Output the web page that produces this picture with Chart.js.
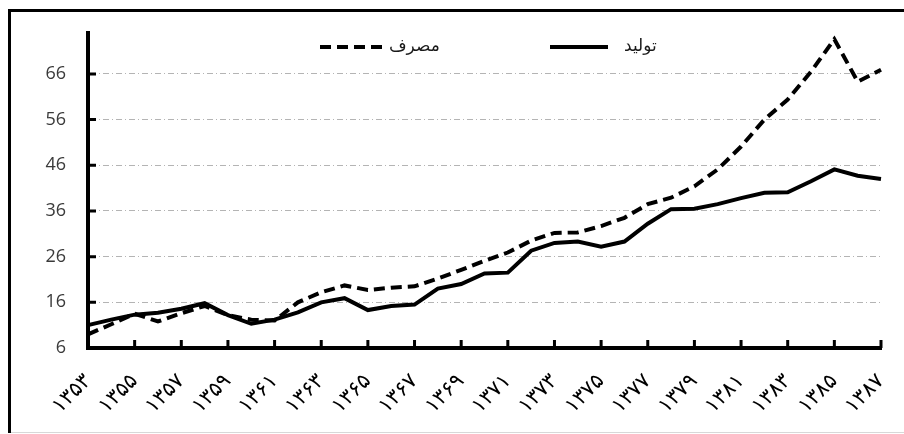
<!DOCTYPE html>
<html>
<head>
<meta charset="utf-8">
<script src="https://cdn.jsdelivr.net/npm/chart.js@4"></script>
<style>
  html, body { margin: 0; padding: 0; background: #fff; }
  canvas { display: block; }
</style>
</head>
<body>
<canvas id="mainChart" width="904" height="434"></canvas>
<script>
// سال‌ها (categories)
const years = ['۱۳۵۳','۱۳۵۴','۱۳۵۵','۱۳۵۶','۱۳۵۷','۱۳۵۸','۱۳۵۹','۱۳۶۰','۱۳۶۱','۱۳۶۲',
               '۱۳۶۳','۱۳۶۴','۱۳۶۵','۱۳۶۶','۱۳۶۷','۱۳۶۸','۱۳۶۹','۱۳۷۰','۱۳۷۱','۱۳۷۲',
               '۱۳۷۳','۱۳۷۴','۱۳۷۵','۱۳۷۶','۱۳۷۷','۱۳۷۸','۱۳۷۹','۱۳۸۰','۱۳۸۱','۱۳۸۲',
               '۱۳۸۳','۱۳۸۴','۱۳۸۵','۱۳۸۶','۱۳۸۷'];

// مصرف
const consumption = [9.0, 11.2, 13.5, 11.8, 13.6, 15.2, 13.2, 12.2, 12.0, 16.0,
                     18.2, 19.7, 18.7, 19.2, 19.5, 21.2, 23.1, 25.1, 26.9, 29.5,
                     31.2, 31.3, 32.7, 34.5, 37.5, 38.9, 41.4, 45.1, 50.1, 56.0,
                     60.4, 66.5, 73.6, 64.3, 66.9];

// تولید
const production = [11.0, 12.2, 13.3, 13.7, 14.6, 15.8, 13.2, 11.3, 12.2, 13.8,
                    16.0, 16.9, 14.3, 15.2, 15.5, 19.0, 20.0, 22.3, 22.5, 27.3,
                    29.0, 29.3, 28.2, 29.3, 33.2, 36.4, 36.5, 37.5, 38.8, 40.0,
                    40.1, 42.5, 45.1, 43.7, 43.0];

const seriesNames = ['مصرف', 'تولید'];
const yTicks = [6, 16, 26, 36, 46, 56, 66];
const yMin = 6;
const yMax = 75;

// where the two legend entries sit (line start, line end, text x)
const legendPos = [
  { x1: 320, x2: 384, tx: 389, y: 47 },
  { x1: 550, x2: 608, tx: 624, y: 47 }
];

const frame = {
  id: 'frame',
  beforeDraw(chart) {
    const ctx = chart.ctx;
    ctx.save();
    ctx.fillStyle = '#fff';
    ctx.fillRect(0, 0, chart.width, chart.height);
    ctx.strokeStyle = '#d8d8d8';
    ctx.lineWidth = 1;
    ctx.beginPath();
    ctx.moveTo(10, 432.5);
    ctx.lineTo(chart.width, 432.5);
    ctx.stroke();
    ctx.strokeStyle = '#000';
    ctx.lineWidth = 3;
    ctx.beginPath();
    ctx.moveTo(9.5, 433);
    ctx.lineTo(9.5, 10.5);
    ctx.lineTo(chart.width, 10.5);
    ctx.stroke();
    ctx.restore();
  }
};

// tick marks point into the plot, Excel style
const innerTicks = {
  id: 'innerTicks',
  afterDraw(chart) {
    const ctx = chart.ctx;
    const xs = chart.scales.x;
    const ys = chart.scales.y;
    ctx.save();
    ctx.strokeStyle = '#000';
    ctx.lineWidth = 3;
    ctx.beginPath();
    for (let i = 2; i < years.length; i += 2) {
      const px = xs.getPixelForValue(i);
      ctx.moveTo(px, ys.bottom);
      ctx.lineTo(px, ys.bottom - 8);
    }
    yTicks.forEach(v => {
      const py = ys.getPixelForValue(v);
      ctx.moveTo(xs.left, py);
      ctx.lineTo(xs.left + 8, py);
    });
    ctx.stroke();
    ctx.restore();
  }
};

const legendLines = {
  id: 'legendLines',
  afterDraw(chart) {
    const ctx = chart.ctx;
    ctx.save();
    chart.data.datasets.forEach((ds, i) => {
      const p = legendPos[i];
      ctx.strokeStyle = ds.borderColor;
      ctx.lineWidth = ds.borderWidth;
      ctx.setLineDash(ds.borderDash || []);
      ctx.beginPath();
      ctx.moveTo(p.x1, p.y);
      ctx.lineTo(p.x2, p.y);
      ctx.stroke();
      ctx.setLineDash([]);
      ctx.fillStyle = '#1a1a1a';
      ctx.font = '17px "DejaVu Sans"';
      ctx.textAlign = 'left';
      ctx.textBaseline = 'middle';
      ctx.fillText(ds.label, p.tx, p.y);
    });
    ctx.restore();
  }
};

new Chart(document.getElementById('mainChart'), {
  type: 'line',
  data: {
    labels: years,
    datasets: [{
      label: seriesNames[0],
      data: consumption,
      borderColor: '#000',
      borderWidth: 4,
      borderDash: [11, 6],
      pointRadius: 0,
      tension: 0,
      fill: false
    }, {
      label: seriesNames[1],
      data: production,
      borderColor: '#000',
      borderWidth: 4,
      pointRadius: 0,
      tension: 0,
      fill: false
    }]
  },
  options: {
    responsive: false,
    animation: false,
    events: [],
    layout: { padding: { top: 31, right: 23, bottom: 0, left: 0 } },
    plugins: {
      legend: { display: false },
      tooltip: { enabled: false }
    },
    scales: {
      x: {
        offset: false,
        grid: { drawOnChartArea: false, drawTicks: false },
        border: { color: '#000', width: 4 },
        ticks: {
          autoSkip: false,
          maxRotation: 45,
          minRotation: 45,
          padding: 21,
          color: '#000',
          font: { family: '"DejaVu Sans"', size: 21 },
          callback: (v, i) => (i % 2 === 0 ? years[i] : '')
        },
        afterFit: s => {
          s.height = 86;
          s.paddingLeft = 0;
          s.paddingRight = 0;
        }
      },
      y: {
        min: yMin,
        max: yMax,
        grid: { color: '#b4b4b4', lineWidth: 1, drawTicks: false },
        border: { color: '#000', width: 4, dash: [6, 3, 1, 3] },
        ticks: {
          padding: 22,
          color: '#3a3a3a',
          font: { family: '"Open Sans"', size: 18 }
        },
        afterBuildTicks: s => { s.ticks = yTicks.map(v => ({ value: v })); },
        afterFit: s => { s.width = 88; }
      }
    }
  },
  plugins: [frame, innerTicks, legendLines]
});
</script>
</body>
</html>
